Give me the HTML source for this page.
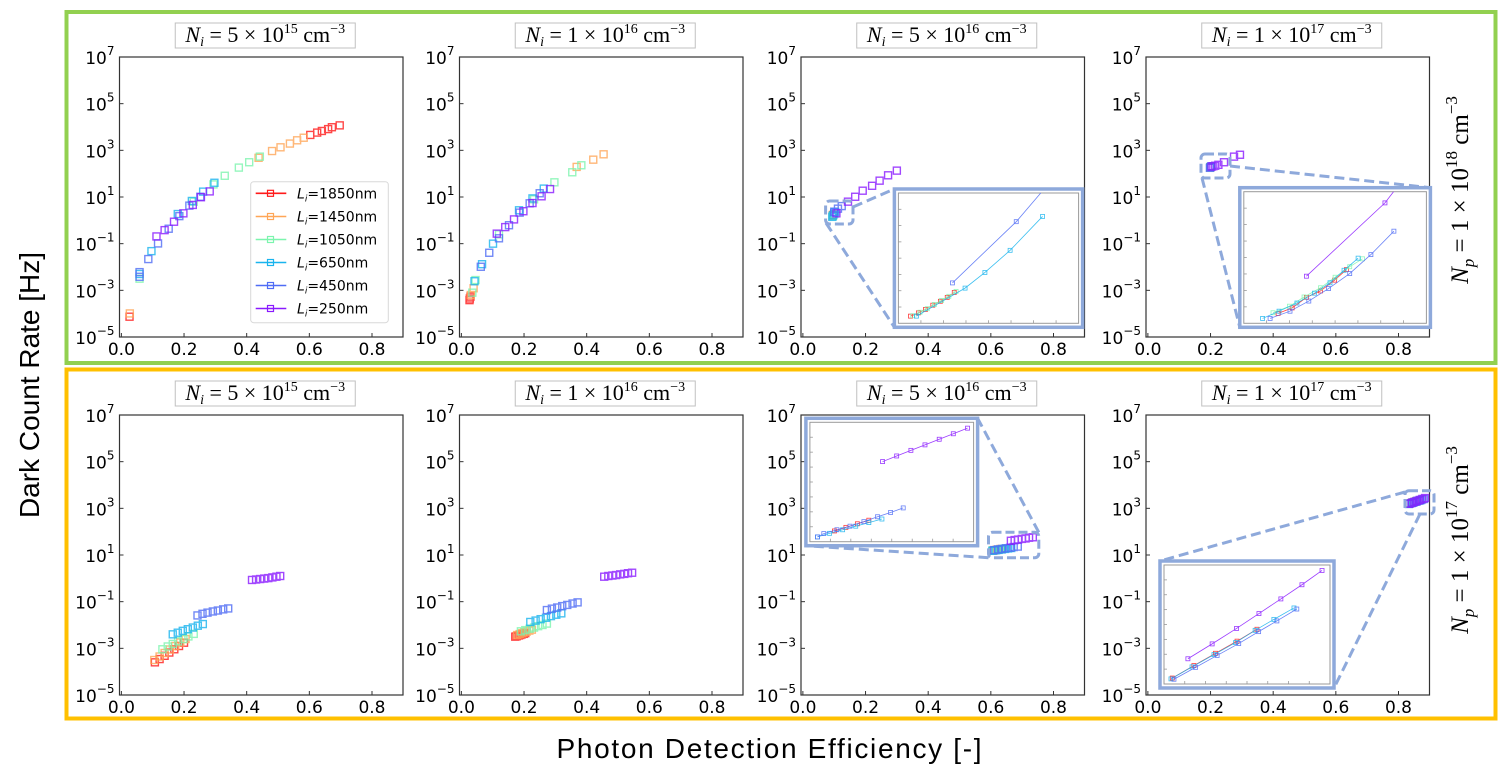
<!DOCTYPE html>
<html><head><meta charset="utf-8"><style>
html,body{margin:0;padding:0;background:#fff;}
svg{display:block;}
</style></head><body>
<svg id="fig" xmlns="http://www.w3.org/2000/svg" width="1507" height="775" viewBox="0 0 1507 775">
<rect x="0" y="0" width="1507" height="775" fill="#fff"/>
<rect x="66.5" y="12" width="1429" height="351" fill="none" stroke="#92d050" stroke-width="4"/>
<rect x="66.5" y="369.5" width="1429" height="349" fill="none" stroke="#ffc000" stroke-width="4"/>
<text transform="translate(39,385) rotate(-90)" text-anchor="middle" font-family="Liberation Sans, sans-serif" font-size="28" fill="#000">Dark Count Rate [Hz]</text>
<text x="769" y="758" text-anchor="middle" font-family="Liberation Sans, sans-serif" font-size="28" textLength="425" fill="#000">Photon Detection Efficiency [-]</text>
<text transform="translate(1468,190) rotate(-90)" text-anchor="middle" font-family="Liberation Serif, serif" font-size="25" fill="#000"><tspan font-style="italic">N</tspan><tspan font-style="italic" font-size="17" dy="6">p</tspan><tspan dy="-6"> = 1 × 10</tspan><tspan font-size="17" dy="-11">18</tspan><tspan dy="11"> cm</tspan><tspan font-size="17" dy="-11">−3</tspan></text>
<text transform="translate(1468,540) rotate(-90)" text-anchor="middle" font-family="Liberation Serif, serif" font-size="25" fill="#000"><tspan font-style="italic">N</tspan><tspan font-style="italic" font-size="17" dy="6">p</tspan><tspan dy="-6"> = 1 × 10</tspan><tspan font-size="17" dy="-11">17</tspan><tspan dy="11"> cm</tspan><tspan font-size="17" dy="-11">−3</tspan></text>
<g id="plots"></g>
</svg>
<script>
// ---- data: categories ----
const thicknesses = ['1850','1450','1050','650','450','250'];
const seriesColors = ['#ff1a1a','#ffa657','#7cf5ae','#19b4ee','#4f6cf5','#8a1aff'];
const titleExp = ['15','16','16','17','15','16','16','17'];
const titleMant = ['5','1','5','1','5','1','5','1'];
const xTicks = [0.0,0.2,0.4,0.6,0.8];
const xTickLabels = ['0.0','0.2','0.4','0.6','0.8'];
const yTickExps = [7,5,3,1,-1,-3,-5];
const yTickLabels = ['7','5','3','1','−1','−3','−5'];
// ---- panel 1 (Np=1e18, Ni=5e15): x = PDE, y = log10(DCR) ----
const p1_1850_x=[0.026,0.603,0.625,0.64,0.66,0.672,0.697];
const p1_1850_y=[-4.13,3.66,3.76,3.83,3.91,3.99,4.07];
const p1_1450_x=[0.027,0.438,0.481,0.508,0.538,0.561,0.582];
const p1_1450_y=[-3.99,2.68,2.97,3.13,3.29,3.43,3.54];
const p1_1050_x=[0.058,0.231,0.294,0.33,0.375,0.408,0.442];
const p1_1050_y=[-2.5,0.8,1.54,1.91,2.26,2.49,2.73];
const p1_650_x=[0.058,0.096,0.18,0.225,0.261,0.297];
const p1_650_y=[-2.3,-1.32,0.27,0.83,1.23,1.61];
const p1_450_x=[0.058,0.058,0.086,0.117,0.151,0.185,0.217,0.252];
const p1_450_y=[-2.22,-2.42,-1.66,-0.99,-0.36,0.18,0.63,1.01];
const p1_250_x=[0.112,0.138,0.168,0.198,0.228,0.254,0.282];
const p1_250_y=[-0.69,-0.42,-0.06,0.3,0.66,0.99,1.24];
// ---- panel 2 ----
const p2_1850_x=[0.026,0.027,0.029];
const p2_1850_y=[-3.42,-3.35,-3.27];
const p2_1450_x=[0.03,0.039,0.368,0.421,0.454];
const p2_1450_y=[-3.2,-2.91,2.29,2.6,2.83];
const p2_1050_x=[0.035,0.045,0.12,0.232,0.297,0.354,0.383];
const p2_1050_y=[-3.1,-2.56,-0.6,0.9,1.63,2.06,2.36];
const p2_650_x=[0.042,0.066,0.101,0.184,0.227,0.263];
const p2_650_y=[-2.61,-1.88,-1.0,0.43,0.94,1.36];
const p2_450_x=[0.062,0.089,0.12,0.152,0.186,0.218,0.25];
const p2_450_y=[-1.99,-1.39,-0.77,-0.21,0.33,0.73,1.16];
const p2_250_x=[0.113,0.14,0.168,0.198,0.227,0.256,0.283];
const p2_250_y=[-0.57,-0.29,0.04,0.39,0.74,1.03,1.34];
// ---- panel 3 ----
const p3_1850_x=[0.095]; const p3_1850_y=[0.2];
const p3_1450_x=[0.096]; const p3_1450_y=[0.24];
const p3_1050_x=[0.095,0.1]; const p3_1050_y=[0.18,0.27];
const p3_650_x=[0.094,0.097,0.1,0.103]; const p3_650_y=[0.15,0.22,0.3,0.36];
const p3_450_x=[0.1,0.112,0.124]; const p3_450_y=[0.37,0.5,0.61];
const p3_250_x=[0.107,0.144,0.167,0.191,0.221,0.245,0.272,0.3];
const p3_250_y=[0.3,0.8,1.01,1.27,1.48,1.7,1.93,2.13];
// ---- panel 4 ----
const p4_1850_x=[0.199]; const p4_1850_y=[2.27];
const p4_1450_x=[0.2]; const p4_1450_y=[2.28];
const p4_1050_x=[0.2]; const p4_1050_y=[2.29];
const p4_650_x=[0.2]; const p4_650_y=[2.28];
const p4_450_x=[0.198,0.203]; const p4_450_y=[2.25,2.32];
const p4_250_x=[0.203,0.209,0.215,0.225,0.243,0.275,0.294];
const p4_250_y=[2.3,2.32,2.34,2.38,2.49,2.73,2.81];
// ---- panel 5 (Np=1e17, Ni=5e15) ----
const p5_1850_x=[0.107,0.122,0.138,0.153,0.169,0.184,0.2];
const p5_1850_y=[-3.6,-3.46,-3.32,-3.18,-3.04,-2.9,-2.76];
const p5_1450_x=[0.105,0.122,0.138,0.155,0.172,0.188,0.205];
const p5_1450_y=[-3.5,-3.35,-3.2,-3.05,-2.9,-2.75,-2.6];
const p5_1050_x=[0.131,0.148,0.164,0.181,0.198,0.214,0.231];
const p5_1050_y=[-3.04,-2.92,-2.81,-2.7,-2.6,-2.49,-2.38];
const p5_650_x=[0.164,0.18,0.196,0.212,0.228,0.244,0.26];
const p5_650_y=[-2.4,-2.33,-2.25,-2.18,-2.11,-2.03,-1.96];
const p5_450_x=[0.243,0.259,0.275,0.292,0.308,0.325,0.341];
const p5_450_y=[-1.59,-1.52,-1.47,-1.42,-1.38,-1.33,-1.29];
const p5_250_x=[0.417,0.43,0.443,0.456,0.469,0.482,0.495,0.507];
const p5_250_y=[-0.07,-0.05,-0.03,-0.01,0.01,0.04,0.07,0.1];
// ---- panel 6 ----
const p6_1850_x=[0.172,0.177,0.183,0.188,0.193,0.199,0.204];
const p6_1850_y=[-2.5,-2.48,-2.45,-2.43,-2.4,-2.38,-2.35];
const p6_1450_x=[0.178,0.186,0.194,0.201,0.209,0.217,0.225];
const p6_1450_y=[-2.43,-2.39,-2.35,-2.31,-2.28,-2.24,-2.2];
const p6_1050_x=[0.19,0.204,0.218,0.232,0.245,0.259,0.273];
const p6_1050_y=[-2.27,-2.22,-2.16,-2.11,-2.05,-2.0,-1.94];
const p6_650_x=[0.22,0.237,0.253,0.27,0.286,0.303,0.319];
const p6_650_y=[-1.87,-1.81,-1.75,-1.69,-1.62,-1.56,-1.5];
const p6_450_x=[0.273,0.289,0.306,0.322,0.338,0.355,0.371];
const p6_450_y=[-1.36,-1.3,-1.25,-1.19,-1.14,-1.08,-1.03];
const p6_250_x=[0.456,0.469,0.482,0.494,0.507,0.52,0.532,0.545];
const p6_250_y=[0.07,0.1,0.12,0.14,0.17,0.19,0.22,0.24];
// ---- panel 7 ----
const p7_1850_x=[0.608,0.62,0.632]; const p7_1850_y=[1.19,1.22,1.25];
const p7_1450_x=[0.607,0.619,0.631]; const p7_1450_y=[1.2,1.23,1.26];
const p7_1050_x=[0.606,0.618,0.63,0.642]; const p7_1050_y=[1.19,1.21,1.24,1.27];
const p7_650_x=[0.605,0.615,0.625,0.635,0.645,0.655,0.665];
const p7_650_y=[1.18,1.2,1.22,1.24,1.26,1.28,1.3];
const p7_450_x=[0.611,0.623,0.636,0.648,0.661,0.673,0.686];
const p7_450_y=[1.21,1.24,1.26,1.29,1.31,1.34,1.36];
const p7_250_x=[0.664,0.676,0.687,0.699,0.711,0.722,0.734];
const p7_250_y=[1.61,1.64,1.66,1.69,1.71,1.74,1.76];
// ---- panel 8 ----
const p8_1850_x=[0.834,0.845,0.856]; const p8_1850_y=[3.2,3.25,3.3];
const p8_1450_x=[0.835,0.846,0.857]; const p8_1450_y=[3.21,3.26,3.31];
const p8_1050_x=[0.834,0.846,0.858]; const p8_1050_y=[3.2,3.26,3.32];
const p8_650_x=[0.833,0.845,0.857,0.869]; const p8_650_y=[3.19,3.24,3.29,3.34];
const p8_450_x=[0.833,0.841,0.849,0.857,0.865,0.873,0.881];
const p8_450_y=[3.19,3.22,3.26,3.29,3.33,3.36,3.4];
const p8_250_x=[0.835,0.843,0.851,0.86,0.868,0.876,0.885];
const p8_250_y=[3.2,3.24,3.28,3.32,3.36,3.4,3.44];
// ---- inset data (normalised inset-axis units) ----
const in3_450_x=[0.30,0.654,0.79]; const in3_450_y=[0.31,0.78,1.0];
const in3_650_x=[0.10,0.37,0.48,0.62,0.80]; const in3_650_y=[0.055,0.27,0.39,0.56,0.82];
const in3_1850_x=[0.067,0.111,0.15,0.191,0.233,0.271,0.31]; const in3_1850_y=[0.055,0.08,0.106,0.139,0.169,0.199,0.237];
const in3_1050_x=[0.08,0.12,0.16,0.2,0.24,0.28,0.32]; const in3_1050_y=[0.058,0.085,0.112,0.145,0.176,0.207,0.245];
const in4_250_x=[0.343,0.773,0.82]; const in4_250_y=[0.358,0.915,1.0];
const in4_450_x=[0.144,0.253,0.356,0.464,0.58,0.696,0.822]; const in4_450_y=[0.037,0.092,0.169,0.264,0.378,0.522,0.70];
const in4_650_x=[0.103,0.193,0.291,0.387,0.472,0.549,0.626]; const in4_650_y=[0.037,0.092,0.154,0.229,0.308,0.403,0.495];
const in4_1850_x=[0.188,0.265,0.343,0.42,0.497,0.562]; const in4_1850_y=[0.075,0.117,0.197,0.246,0.328,0.408];
const in4_1050_x=[0.16,0.25,0.33,0.42,0.5,0.58,0.65]; const in4_1050_y=[0.08,0.13,0.2,0.27,0.35,0.43,0.49];
const in7_250_x=[0.444,0.53,0.617,0.703,0.79,0.876,0.963]; const in7_250_y=[0.671,0.718,0.765,0.811,0.858,0.904,0.951];
const in7_450_x=[0.046,0.085,0.165,0.245,0.330,0.413,0.493,0.57]; const in7_450_y=[0.04,0.068,0.1,0.13,0.168,0.209,0.245,0.283];
const in7_650_x=[0.046,0.12,0.2,0.28,0.36,0.44]; const in7_650_y=[0.04,0.07,0.1,0.13,0.16,0.19];
const in7_1850_x=[0.15,0.22,0.29,0.36]; const in7_1850_y=[0.09,0.12,0.15,0.18];
const in8_250_x=[0.144,0.29,0.437,0.572,0.704,0.831,0.952]; const in8_250_y=[0.212,0.337,0.467,0.592,0.715,0.834,0.954];
const in8_650_x=[0.042,0.169,0.301,0.431,0.549,0.662,0.783]; const in8_650_y=[0.043,0.144,0.247,0.348,0.451,0.543,0.639];
const in8_450_x=[0.06,0.19,0.32,0.45,0.57,0.68,0.8]; const in8_450_y=[0.04,0.14,0.24,0.34,0.44,0.53,0.63];
const in8_1850_x=[0.05,0.18,0.31,0.44,0.56]; const in8_1850_y=[0.05,0.155,0.258,0.36,0.46];

const NS='http://www.w3.org/2000/svg';
const root=document.getElementById('plots');
function mk(tag,attrs,parent){const e=document.createElementNS(NS,tag);for(const k in attrs)e.setAttribute(k,attrs[k]);(parent||root).appendChild(e);return e;}

const panelLefts=[119.5,459.5,801,1146];
const rowTops=[57,415];
const PW=283.5, PH=280;
const XMIN=-0.006, XMAX=0.899, YMIN=-5, YMAX=7;
function xs(p,v){return p.l+(v-XMIN)/(XMAX-XMIN)*PW;}
function ys(p,v){return p.t+(YMAX-v)/(YMAX-YMIN)*PH;}

const panelData=[
 [[p1_1850_x,p1_1850_y],[p1_1450_x,p1_1450_y],[p1_1050_x,p1_1050_y],[p1_650_x,p1_650_y],[p1_450_x,p1_450_y],[p1_250_x,p1_250_y]],
 [[p2_1850_x,p2_1850_y],[p2_1450_x,p2_1450_y],[p2_1050_x,p2_1050_y],[p2_650_x,p2_650_y],[p2_450_x,p2_450_y],[p2_250_x,p2_250_y]],
 [[p3_1850_x,p3_1850_y],[p3_1450_x,p3_1450_y],[p3_1050_x,p3_1050_y],[p3_650_x,p3_650_y],[p3_450_x,p3_450_y],[p3_250_x,p3_250_y]],
 [[p4_1850_x,p4_1850_y],[p4_1450_x,p4_1450_y],[p4_1050_x,p4_1050_y],[p4_650_x,p4_650_y],[p4_450_x,p4_450_y],[p4_250_x,p4_250_y]],
 [[p5_1850_x,p5_1850_y],[p5_1450_x,p5_1450_y],[p5_1050_x,p5_1050_y],[p5_650_x,p5_650_y],[p5_450_x,p5_450_y],[p5_250_x,p5_250_y]],
 [[p6_1850_x,p6_1850_y],[p6_1450_x,p6_1450_y],[p6_1050_x,p6_1050_y],[p6_650_x,p6_650_y],[p6_450_x,p6_450_y],[p6_250_x,p6_250_y]],
 [[p7_1850_x,p7_1850_y],[p7_1450_x,p7_1450_y],[p7_1050_x,p7_1050_y],[p7_650_x,p7_650_y],[p7_450_x,p7_450_y],[p7_250_x,p7_250_y]],
 [[p8_1850_x,p8_1850_y],[p8_1450_x,p8_1450_y],[p8_1050_x,p8_1050_y],[p8_650_x,p8_650_y],[p8_450_x,p8_450_y],[p8_250_x,p8_250_y]]
];

const panels=[];
for(let i=0;i<8;i++){
  const p={l:panelLefts[i%4], t:rowTops[Math.floor(i/4)], idx:i};
  panels.push(p);
  const g=mk('g',{});
  
  
  const cx=p.l+PW/2+4;
  const tb=mk('rect',{x:cx-90,y:p.t-34,width:180,height:25,fill:'#fff',stroke:'#c0c0c0','stroke-width':1},g);
  
  
  const tt=mk('text',{x:cx,y:p.t-15,'text-anchor':'middle','font-family':'Liberation Serif, serif','font-size':22,fill:'#000'},g);
  
  
  tt.innerHTML='<tspan font-style="italic">N</tspan><tspan font-style="italic" font-size="14" dy="4">i</tspan><tspan dy="-4"> = '+titleMant[i]+' × 10</tspan><tspan font-size="14" dy="-9">'+titleExp[i]+'</tspan><tspan dy="9"> cm</tspan><tspan font-size="14" dy="-9">−3</tspan>';
  const ax=mk('rect',{x:p.l,y:p.t,width:PW,height:PH,fill:'#fff',stroke:'#333','stroke-width':1.2},g);
  
  
  xTicks.forEach((v,k)=>{
    const X=xs(p,v);
    mk('line',{x1:X,x2:X,y1:p.t+PH,y2:p.t+PH-4,stroke:'#333','stroke-width':1},g);
    const t=mk('text',{x:X,y:p.t+PH+18,'text-anchor':'middle','font-family':'DejaVu Sans, sans-serif','font-size':17,fill:'#000'},g);
    
    
    t.textContent=xTickLabels[k];
  });
  yTickExps.forEach((v,k)=>{
    const Y=ys(p,v);
    mk('line',{x1:p.l,x2:p.l+4,y1:Y,y2:Y,stroke:'#333','stroke-width':1},g);
    const t=mk('text',{x:p.l-5,y:Y+7,'text-anchor':'end','font-family':'DejaVu Sans, sans-serif','font-size':17,fill:'#000'},g);
    
    
    t.innerHTML='10<tspan font-size="12" dy="-9">'+yTickLabels[k]+'</tspan>';
  });
  panelData[i].forEach((s,si)=>{
    const sg=mk('g',{fill:'none',stroke:seriesColors[si],'stroke-width':1.4,opacity:0.8},g);
    
    
    s[0].forEach((xv,j)=>{
      const X=xs(p,xv),Y=ys(p,s[1][j]);
      const m=mk('rect',{x:X-3.5,y:Y-3.5,width:7,height:7},sg);
      
      
    });
  });
}

(function(){
  const lg=mk('g',{});
  
  
  mk('rect',{x:250.7,y:181.7,width:137.6,height:141,rx:3,fill:'#fff',stroke:'#d8d8d8','stroke-width':1},lg);
  const ys0=[193.3,216.5,239.5,262.5,285.5,308.5];
  thicknesses.forEach((th,k)=>{
    const e=mk('g',{},lg);
    
    
    mk('line',{x1:255.7,x2:286.3,y1:ys0[k],y2:ys0[k],stroke:seriesColors[k],'stroke-width':1.6},e);
    mk('rect',{x:267.5,y:ys0[k]-3,width:6,height:6,fill:'none',stroke:seriesColors[k],'stroke-width':1.2},e);
    const t=mk('text',{x:297,y:ys0[k]+5,'font-family':'DejaVu Sans, sans-serif','font-size':14,fill:'#000'},e);
    t.innerHTML='<tspan font-style="italic">L</tspan><tspan font-style="italic" font-size="9" dy="3">i</tspan><tspan dy="-3">='+th+'nm</tspan>';
  });
})();

const zoomColor='#8ea9db';
function inset(name,box,frame,lines,series){
  const g=mk('g',{});
  
  
  lines.forEach(l=>{mk('line',{x1:l[0],y1:l[1],x2:l[2],y2:l[3],stroke:zoomColor,'stroke-width':3,'stroke-dasharray':'10,5'},g);});
  const zb=mk('rect',{x:box[0],y:box[1],width:box[2],height:box[3],rx:4,fill:'none',stroke:zoomColor,'stroke-width':3,'stroke-dasharray':'9,4'},g);
  
  
  mk('rect',{x:frame[0],y:frame[1],width:frame[2],height:frame[3],fill:'#fff',stroke:zoomColor,'stroke-width':3.5},g);
  const ix=frame[0]+4, iy=frame[1]+4, iw=frame[2]-8, ih=frame[3]-8;
  mk('rect',{x:ix,y:iy,width:iw,height:ih,fill:'none',stroke:'#999','stroke-width':1},g);
  for(let k=1;k<=7;k++){const X=ix+iw*k/8;mk('line',{x1:X,x2:X,y1:iy+ih,y2:iy+ih-3,stroke:'#999','stroke-width':0.8},g);}
  for(let k=1;k<=7;k++){const Y=iy+ih*k/8;mk('line',{x1:ix,x2:ix+3,y1:Y,y2:Y,stroke:'#999','stroke-width':0.8},g);}
  series.forEach(s=>{
    const sg=mk('g',{fill:'none',stroke:s[2],'stroke-width':0.8,opacity:0.85},g);
    
    
    const pts=s[0].map((v,j)=>[ix+v*iw, iy+ih-s[1][j]*ih]);
    mk('polyline',{points:pts.map(q=>q.join(',')).join(' ')},sg);
    pts.forEach((q,j)=>{ if(s[1][j]<1){ mk('rect',{x:q[0]-2,y:q[1]-2,width:4,height:4},sg);} });
  });
}
inset('inset-panel-3',[825.6,201,27.4,23],[894.4,189,188.2,138.3],
  [[853,207,894.4,189],[826,223,894.4,327.3]],
  [[in3_1850_x,in3_1850_y,seriesColors[0]],[in3_1050_x,in3_1050_y,seriesColors[2]],[in3_650_x,in3_650_y,seriesColors[3]],[in3_450_x,in3_450_y,seriesColors[4]]]);
inset('inset-panel-4',[1201,154,29,24],[1239.8,187.7,190.6,139.6],
  [[1230,166,1430,187.7],[1202,178,1239.8,327.3]],
  [[in4_1850_x,in4_1850_y,seriesColors[0]],[in4_1050_x,in4_1050_y,seriesColors[2]],[in4_650_x,in4_650_y,seriesColors[3]],[in4_450_x,in4_450_y,seriesColors[4]],[in4_250_x,in4_250_y,seriesColors[5]]]);
inset('inset-panel-7',[988.5,532.3,50.3,25.4],[805.9,418.3,171.7,127.4],
  [[1038.8,532.3,977.6,418.3],[988.5,557.7,805.9,545.7]],
  [[in7_1850_x,in7_1850_y,seriesColors[0]],[in7_650_x,in7_650_y,seriesColors[3]],[in7_450_x,in7_450_y,seriesColors[4]],[in7_250_x,in7_250_y,seriesColors[5]]]);
inset('inset-panel-8',[1405,490.7,29,23.3],[1160,561,174,127],
  [[1405,492,1160,561],[1420,514,1334,688]],
  [[in8_1850_x,in8_1850_y,seriesColors[0]],[in8_650_x,in8_650_y,seriesColors[3]],[in8_450_x,in8_450_y,seriesColors[4]],[in8_250_x,in8_250_y,seriesColors[5]]]);
</script>
</body></html>
